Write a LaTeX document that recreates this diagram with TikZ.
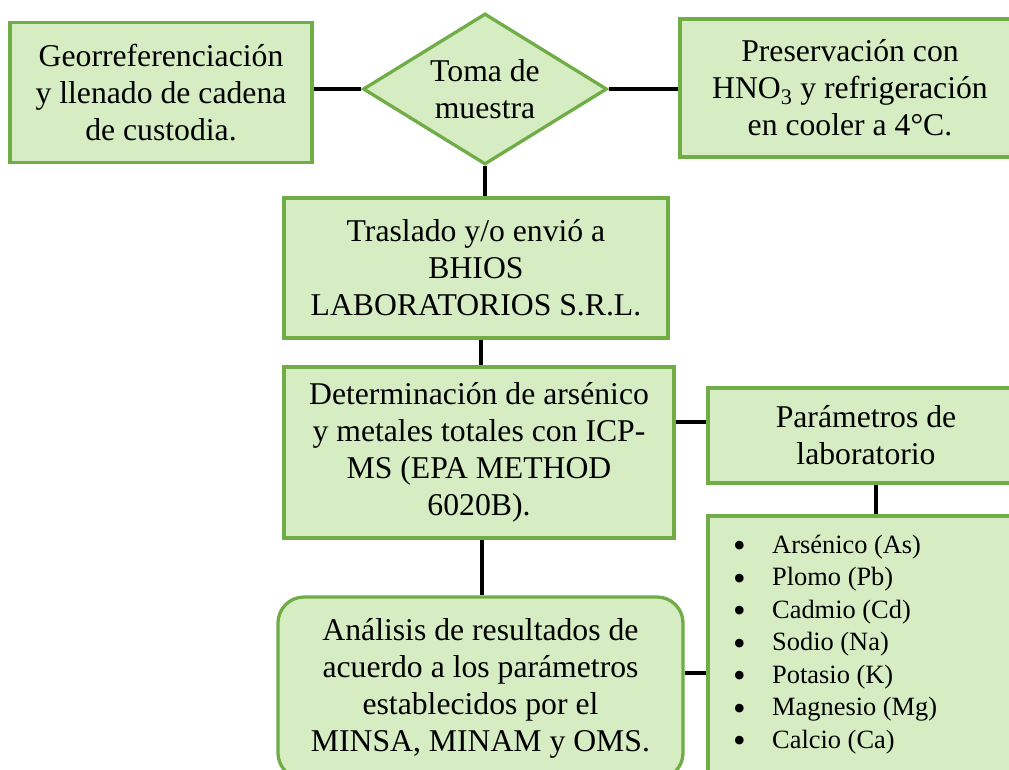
\documentclass[tikz,border=0pt]{standalone}
\usepackage{fontspec}
\setmainfont{Liberation Serif}
\usetikzlibrary{shapes.geometric}
\definecolor{boxfill}{RGB}{214,236,194}
\definecolor{boxline}{RGB}{112,173,71}
\tikzset{
  stepbox/.style={draw=boxline, fill=boxfill, line width=3.3pt, align=center, inner sep=0pt,
    font=\fontsize{31.7}{37}\selectfont},
  conn/.style={draw=black, line width=3.4pt},
  listitem/.style={anchor=base west, inner sep=0pt, font=\fontsize{26.4}{32.5}\selectfont}
}
\begin{document}
\begin{tikzpicture}[x=1pt,y=-1pt]
\useasboundingbox (0,0) rectangle (1009,769);
\clip (0,0) rectangle (1009,769);
% nodes
\node[stepbox, minimum width=302pt, minimum height=140pt] (geo) at (161,92.5)
  {Georreferenciación\\y llenado de cadena\\de custodia.};
\node[stepbox, diamond, aspect=1.62, minimum width=244pt, minimum height=151pt] (toma) at (485,89)
  {Toma de\\muestra};
\node[stepbox, minimum width=340pt, minimum height=138pt] (pres) at (850,88)
  {Preservación con\\HNO\textsubscript{3} y refrigeración\\en cooler a 4°C.};
\node[stepbox, minimum width=384pt, minimum height=140pt] (tras) at (476,268)
  {Traslado y/o envió a\\BHIOS\\LABORATORIOS S.R.L.};
\node[stepbox, minimum width=390pt, minimum height=171pt] (det) at (479,452.5)
  {Determinación de arsénico\\y metales totales con ICP-\\MS (EPA METHOD\\6020B).};
\node[stepbox, minimum width=316pt, minimum height=95pt] (par) at (866,435.5)
  {Parámetros de\\laboratorio};
\node[stepbox, minimum width=316pt, minimum height=264pt] (lst) at (866,648) {};
\node[stepbox, rounded corners=26pt, minimum width=405pt, minimum height=182pt] (ana) at (480.5,688)
  {Análisis de resultados de\\acuerdo a los parámetros\\establecidos por el\\MINSA, MINAM y OMS.};
% list items
\foreach \t [count=\i] in {Arsénico (As),Plomo (Pb),Cadmio (Cd),Sodio (Na),Potasio (K),Magnesio (Mg),Calcio (Ca)}{
  \node[listitem] (li\i) at (733,{553+32.5*(\i-1)}) {\makebox[39pt][l]{\raisebox{-4.5pt}{\fontsize{36}{36}\selectfont •}}\t};
}
% connectors
\draw[conn] (toma.west) -- (toma.west -| geo.east);
\draw[conn] (toma.east) -- (toma.east -| pres.west);
\draw[conn] (toma.south) -- (toma.south |- tras.north);
\draw[conn] ([xshift=5pt]tras.south) -- ([xshift=5pt]tras.south |- det.north);
\draw[conn] ([yshift=30.5pt]det.east) -- ([yshift=30.5pt]det.east -| par.west);
\draw[conn] ([xshift=10pt]par.south) -- ([xshift=10pt]par.south |- lst.north);
\draw[conn] ([xshift=3pt]det.south) -- ([xshift=3pt]det.south |- ana.north);
\draw[conn] ([yshift=15pt]ana.east) -- ([yshift=15pt]ana.east -| lst.west);
\end{tikzpicture}
\end{document}
